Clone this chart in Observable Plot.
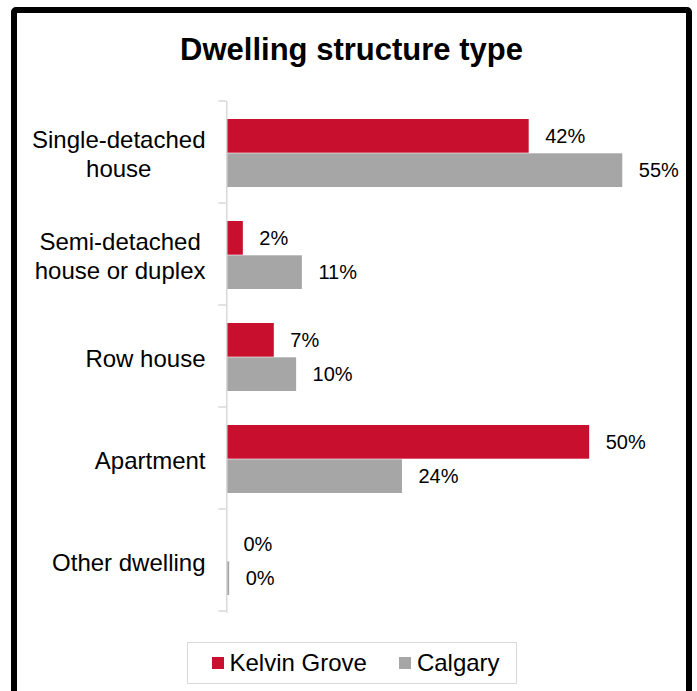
<!DOCTYPE html>
<html>
<head>
<meta charset="utf-8">
<script src="https://cdn.jsdelivr.net/npm/d3@7"></script>
<script src="https://cdn.jsdelivr.net/npm/@observablehq/plot@0.6"></script>
<style>
  html, body { margin: 0; padding: 0; background: #fff; }
  body { position: relative; width: 697px; height: 691px; overflow: hidden; font-family: "Liberation Sans", Arial, sans-serif; }
  #frame { position: absolute; left: 11px; top: 7px; width: 681px; height: 730px; border: 6px solid #000; border-radius: 5px; box-sizing: border-box; }
  #chart { position: absolute; left: 0; top: 0; }
  #title { position: absolute; left: 11px; width: 681px; top: 34px; text-align: center; font-weight: bold; font-size: 31px; line-height: 31px; color: #000; }
  #legend { position: absolute; left: 187px; top: 642px; width: 330px; height: 42px; border: 1.5px solid #d9d9d9; box-sizing: border-box; display: flex; align-items: center; padding-left: 23.5px; font-size: 24px; line-height: 24px; color: #000; }
  .sw { display: inline-block; width: 12px; height: 12px; margin-right: 6px; }
  .item { display: flex; align-items: center; }
</style>
</head>
<body>
<div id="frame"></div>
<div id="chart"></div>
<div id="title">Dwelling structure type</div>
<div id="legend"></div>
<script>
// ---- data ----
const categories = ["Single-detached\nhouse", "Semi-detached\nhouse or duplex", "Row house", "Apartment", "Other dwelling"];
const seriesNames = ["Kelvin Grove", "Calgary"];
const seriesColors = ["#C8102E", "#A6A6A6"];
const kelvinGrove = [41.9, 2.2, 6.5, 50.3, 0];
const calgary = [54.9, 10.4, 9.6, 24.3, 0.3];
const kelvinLabels = ["42%", "2%", "7%", "50%", "0%"];
const calgaryLabels = ["55%", "11%", "10%", "24%", "0%"];

const kgData = categories.map((c, i) => ({category: c, value: kelvinGrove[i], label: kelvinLabels[i]}));
const cgData = categories.map((c, i) => ({category: c, value: calgary[i], label: calgaryLabels[i]}));

const W = 697, H = 640;
const chart = Plot.plot({
  width: W,
  height: H,
  marginLeft: 227,
  marginRight: 38,
  marginTop: 101,
  marginBottom: 27.3,
  style: {fontFamily: "'Liberation Sans', Arial, sans-serif", background: "transparent", overflow: "visible", color: "#000"},
  x: {domain: [0, 60], axis: null},
  y: {domain: categories, padding: 0, axis: null},
  marks: [
    Plot.barX(kgData, {x: "value", y: "category", fill: seriesColors[0], insetTop: 17, insetBottom: 51.3}),
    Plot.barX(cgData, {x: "value", y: "category", fill: seriesColors[1], insetTop: 51.3, insetBottom: 17}),
    Plot.ruleX([0], {stroke: "#d9d9d9", strokeWidth: 1.5, dx: -0.75}),
    Plot.text(kgData, {x: "value", y: "category", text: "label", dx: 16, dy: -17, textAnchor: "start", fontSize: 20, fill: "#000"}),
    Plot.text(cgData, {x: "value", y: "category", text: "label", dx: 16, dy: 17, textAnchor: "start", fontSize: 20, fill: "#000"}),
    Plot.axisY({tickSize: 0, tickPadding: 22, fontSize: 24, lineHeight: 1.18, fill: "#000", label: null})
  ]
});
document.getElementById("chart").appendChild(chart);

// center multi-line category labels on their widest line
d3.select(chart).selectAll("text").each(function() {
  const tspans = this.querySelectorAll("tspan");
  if (tspans.length > 1) {
    const w = this.getBBox().width;
    this.setAttribute("text-anchor", "middle");
    tspans.forEach(t => t.setAttribute("x", -w / 2));
  }
});

// category boundary ticks from the y band scale
const ys = chart.scale("y");
const xs = chart.scale("x");
const x0 = xs.apply(0) - 0.75;
const bounds = d3.range(categories.length + 1).map(i => ys.range[0] + i * ys.step);
d3.select(chart).append("g")
  .attr("stroke", "#d9d9d9").attr("stroke-width", 1.5)
  .selectAll("line").data(bounds).join("line")
  .attr("x1", x0 - 8).attr("x2", x0).attr("y1", d => d).attr("y2", d => d);

// legend
const legend = d3.select("#legend");
seriesNames.forEach((name, i) => {
  const item = legend.append("div").attr("class", "item").style("margin-right", i === 0 ? "32px" : "0");
  item.append("span").attr("class", "sw").style("background", seriesColors[i]);
  item.append("span").text(name);
});
</script>
</body>
</html>
